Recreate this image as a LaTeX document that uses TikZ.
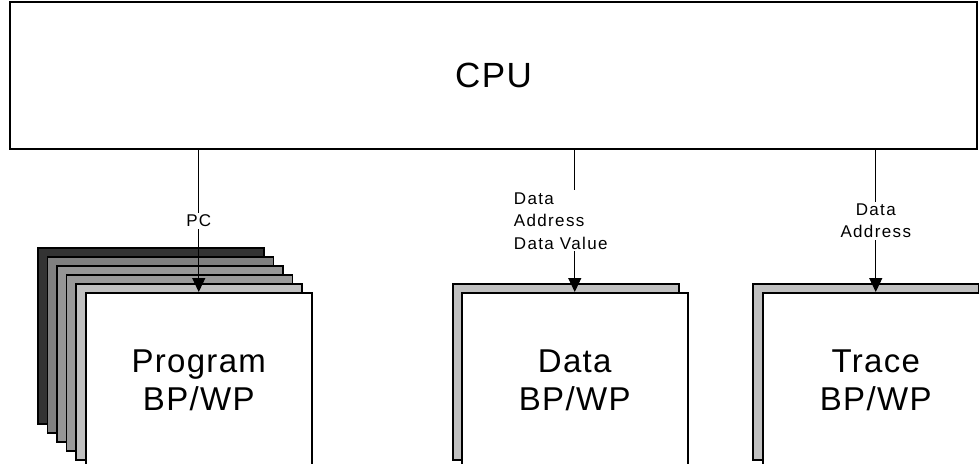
\documentclass[tikz,border=0pt]{standalone}
\usepackage{fontspec}
\setmainfont{Liberation Sans}
\newfontfamily\widefont{Liberation Sans}[LetterSpace=8]
\newfontfamily\bigfont{Liberation Sans}[LetterSpace=4]
\usetikzlibrary{positioning, arrows.meta}
\definecolor{layerA}{HTML}{333333}
\definecolor{layerB}{HTML}{808080}
\definecolor{layerC}{HTML}{969696}
\definecolor{layerD}{HTML}{999999}
\definecolor{layerE}{HTML}{C0C0C0}

\begin{document}
\begin{tikzpicture}[x=1pt, y=-1pt,
	box/.style={draw, line width=1.5pt, minimum width=226pt, minimum height=176pt, anchor=north west, inner sep=0pt},
	bigtext/.style={font=\bigfont\fontsize{33}{38}\selectfont, align=center},
	bus/.style={line width=1.3pt, -{Triangle[width=13pt,length=14pt]}},
	buslabel/.style={fill=white, inner sep=2pt, font=\widefont\fontsize{17}{22.5}\selectfont}]
	\clip (0,0) rectangle (979,463);
	
	\node[draw, line width=1.5pt, minimum width=967pt, minimum height=147pt, inner sep=0pt,
		font=\bigfont\fontsize{35}{40}\selectfont] (cpu) at (493.5,75.5) {CPU};
	
	% program stack
	\foreach \i/\c in {0/layerA, 1/layerB, 2/layerC, 3/layerD, 4/layerE}
		\node[box, fill=\c] (layer\i) at ({37+9.6*\i},{247+9*\i}) {};
	\node[box, fill=white, bigtext] (prog) at (85,292) {Program\\BP/WP};
	
	% data
	\node[box, fill=layerE] (datashadow) at (452,283) {};
	\node[box, fill=white, bigtext] (data) at (461,292) {Data\\BP/WP};
	
	% trace
	\node[box, fill=layerE] (traceshadow) at (752,283) {};
	\node[box, fill=white, bigtext] (trace) at (762,292) {Trace\\BP/WP};
	
	\draw[bus] (prog.north |- cpu.south) -- node[buslabel] (pc) {PC} (prog.north);
	\draw[bus] (data.north |- cpu.south) -- node[buslabel, align=left, xshift=-14pt] (daddr) {Data\\Address\\Data Value} (data.north);
	\draw[bus] (trace.north |- cpu.south) -- node[buslabel, align=center] (taddr) {Data\\Address} (trace.north);
\end{tikzpicture}
\end{document}
